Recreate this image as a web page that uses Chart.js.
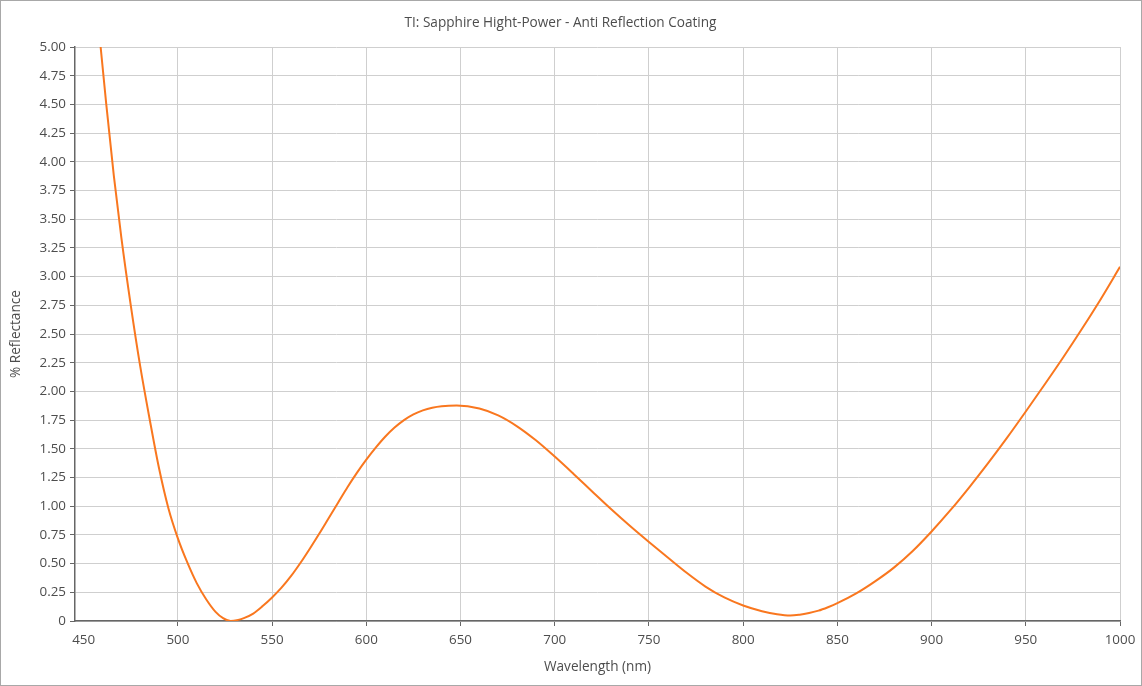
<!DOCTYPE html>
<html>
<head>
<meta charset="utf-8">
<script src="https://cdn.jsdelivr.net/npm/chart.js@4.4.1/dist/chart.umd.min.js"></script>
<style>
  html, body { margin: 0; padding: 0; background: #fff; }
  #wrap { width: 1142px; height: 686px; box-sizing: border-box; border: 1px solid #a8a8a8; position: relative; }
  #c { display: block; }
</style>
</head>
<body>
<div id="wrap"><canvas id="c" width="1140" height="684"></canvas></div>
<script>
const wavelengths = [455, 459, 462, 466, 470, 475, 480, 485, 490, 495, 500, 505, 510, 515, 520, 524, 528, 532, 535, 540, 545, 550, 555, 560, 565, 570, 575, 580, 585, 590, 595, 600, 605, 610, 615, 620, 625, 630, 635, 640, 648, 660, 670, 680, 690, 700, 710, 720, 730, 740, 750, 760, 770, 780, 790, 800, 810, 818, 825, 830, 835, 840, 845, 850, 860, 870, 880, 890, 900, 910, 920, 930, 940, 950, 960, 970, 980, 990, 1000];
const reflectance = [5.72, 5.00, 4.50, 3.88, 3.34, 2.75, 2.22, 1.76, 1.33, 0.98, 0.72, 0.51, 0.33, 0.19, 0.08, 0.025, 0.0, 0.01, 0.025, 0.065, 0.13, 0.205, 0.29, 0.39, 0.505, 0.63, 0.76, 0.895, 1.03, 1.165, 1.29, 1.405, 1.51, 1.605, 1.685, 1.75, 1.80, 1.835, 1.858, 1.871, 1.877, 1.851, 1.791, 1.696, 1.574, 1.432, 1.281, 1.126, 0.973, 0.827, 0.688, 0.553, 0.42, 0.30, 0.205, 0.135, 0.085, 0.058, 0.047, 0.055, 0.07, 0.09, 0.12, 0.155, 0.24, 0.345, 0.465, 0.61, 0.78, 0.965, 1.165, 1.375, 1.595, 1.825, 2.06, 2.30, 2.55, 2.81, 3.085];
const xTickValues = [450, 500, 550, 600, 650, 700, 750, 800, 850, 900, 950, 1000];
const yTickValues = [0, 0.25, 0.5, 0.75, 1, 1.25, 1.5, 1.75, 2, 2.25, 2.5, 2.75, 3, 3.25, 3.5, 3.75, 4, 4.25, 4.5, 4.75, 5];
const chartTitle = 'TI: Sapphire Hight-Power - Anti Reflection Coating';
const xTitle = 'Wavelength (nm)';
const yTitle = '% Reflectance';

const points = wavelengths.map((w, i) => ({ x: w, y: reflectance[i] }));
const FONT = '"Open Sans", "Noto Sans", sans-serif';
const txt = '#4d4d4d';
const gridC = '#cfcfcf';
const axisC = '#666666';

new Chart(document.getElementById('c'), {
  type: 'line',
  data: {
    datasets: [{
      data: points,
      borderColor: '#f9771f',
      borderWidth: 2,
      pointRadius: 0,
      fill: false,
      cubicInterpolationMode: 'monotone',
      clip: true
    }]
  },
  options: {
    responsive: false,
    animation: false,
    layout: { padding: { left: 0, right: 21, top: 0, bottom: 0 } },
    plugins: {
      legend: { display: false },
      tooltip: { enabled: false },
      title: {
        display: true,
        text: chartTitle,
        color: txt,
        font: { family: FONT, size: 13.6, weight: 'normal' },
        padding: { top: 13.5, bottom: 16.2 }
      }
    },
    scales: {
      x: {
        type: 'linear',
        min: 445.4,
        max: 1000,
        afterBuildTicks: s => { s.ticks = xTickValues.map(v => ({ value: v })); },
        afterFit: s => { s.height = 64; s.paddingLeft = 0; s.paddingRight = 0; },
        ticks: {
          autoSkip: false, maxRotation: 0, color: txt, padding: 6,
          font: { family: FONT, size: 13.4 },
          callback: v => String(v)
        },
        grid: {
          color: c => (c.tick && c.tick.value === 450) ? 'rgba(0,0,0,0)' : gridC,
          tickColor: c => (c.tick && c.tick.value === 450) ? 'rgba(0,0,0,0)' : axisC,
          tickLength: 5,
          lineWidth: 1
        },
        border: { color: axisC, width: 1.5 },
        title: {
          display: true, text: xTitle, color: txt,
          font: { family: FONT, size: 13.6 },
          padding: { top: 4, bottom: 10 }
        }
      },
      y: {
        type: 'linear',
        min: 0,
        max: 5,
        afterBuildTicks: s => { s.ticks = yTickValues.map(v => ({ value: v })); },
        afterFit: s => { s.width = 74; s.paddingTop = 0; s.paddingBottom = 0; },
        ticks: {
          autoSkip: false, color: txt, padding: 4,
          font: { family: FONT, size: 13.4 },
          callback: v => v === 0 ? '0' : v.toFixed(2)
        },
        grid: { color: gridC, tickColor: axisC, tickLength: 5, lineWidth: 1 },
        border: { color: axisC, width: 1.5 },
        title: {
          display: true, text: yTitle, color: txt,
          font: { family: FONT, size: 13.6 },
          padding: { top: 7, bottom: 4 }
        }
      }
    }
  }
});
</script>
</body>
</html>
